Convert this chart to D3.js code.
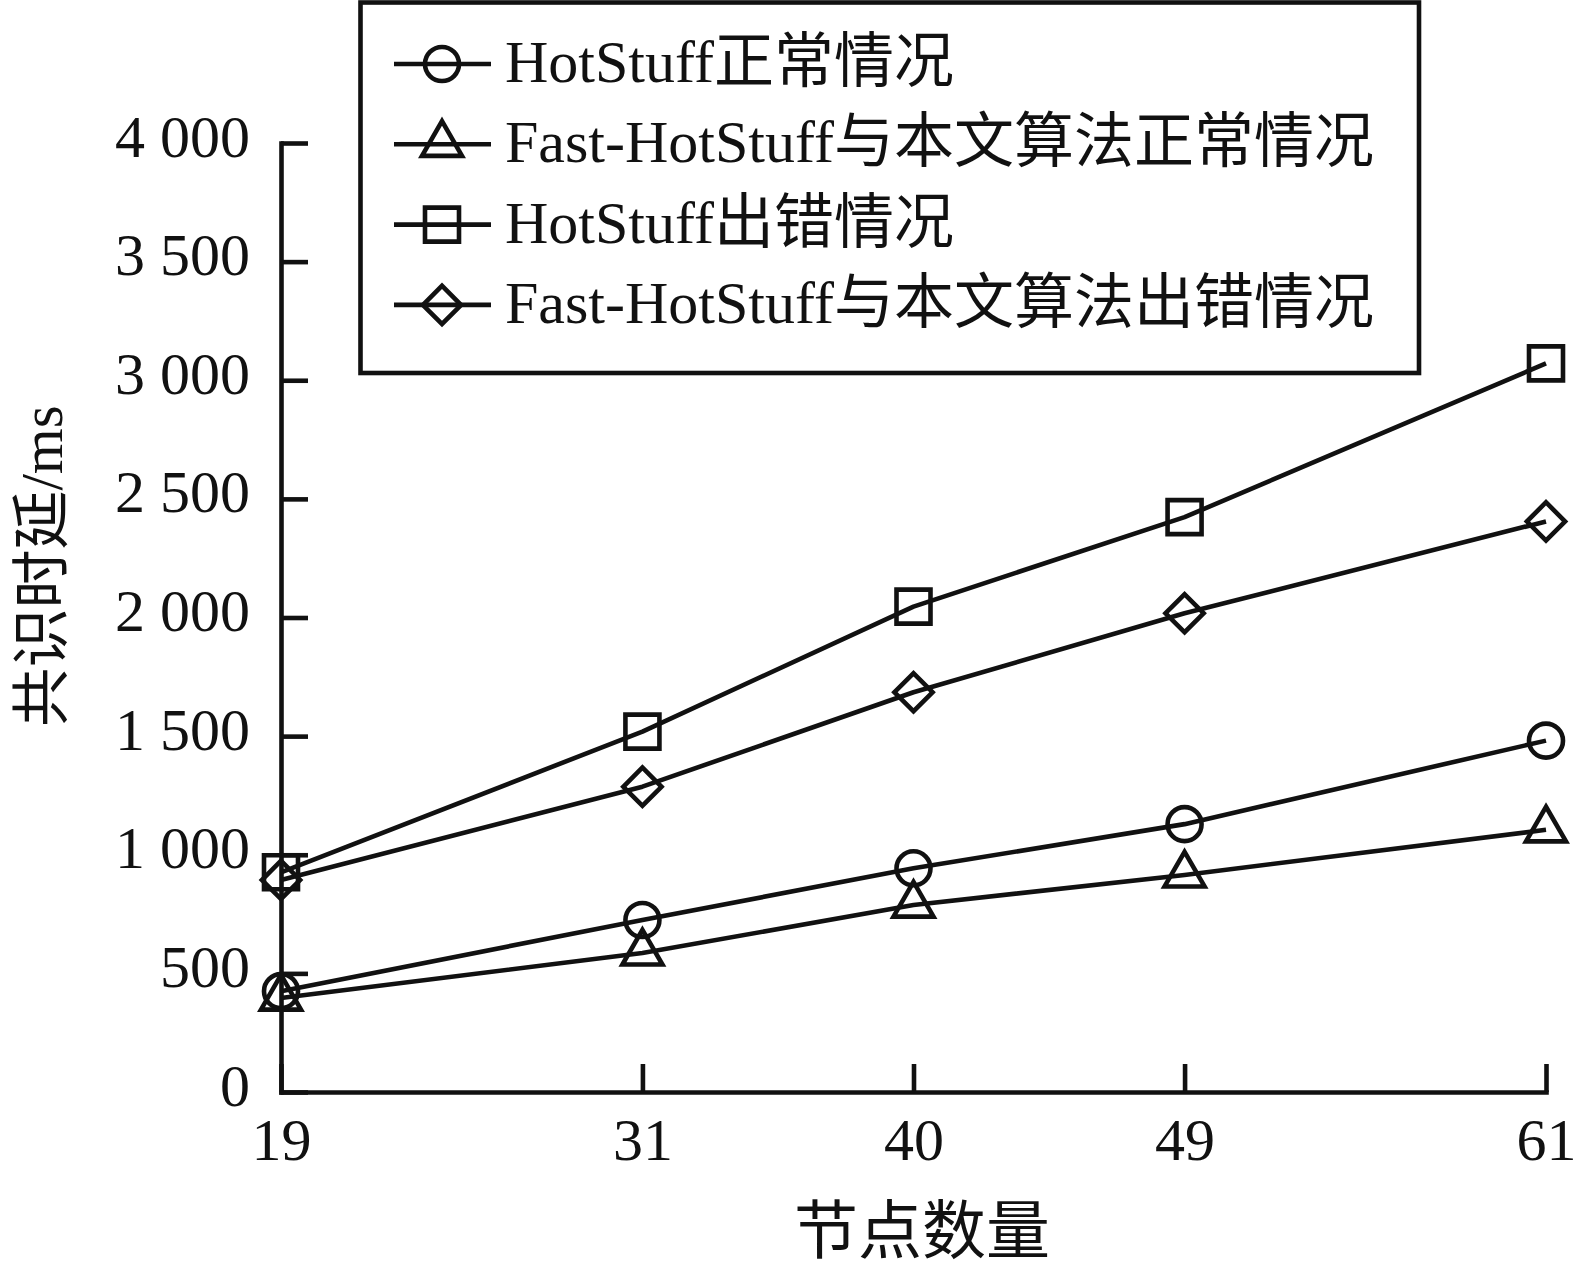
<!DOCTYPE html>
<html>
<head>
<meta charset="utf-8">
<script src="https://cdn.jsdelivr.net/npm/d3@7"></script>
<style>
  html, body { margin: 0; padding: 0; background: #fff; }
  svg { display: block; }
  text { font-family: "Liberation Serif", "Noto Sans CJK SC", serif; fill: #111; }
</style>
</head>
<body>
<script>
// ---- data ----
const nodeCounts = [19, 31, 40, 49, 61];
const hotstuffNormal = [425, 725, 943, 1129, 1481];
const fastNormal = [396, 586, 788, 915, 1105];
const hotstuffError = [926, 1519, 2046, 2423, 3071];
const fastError = [894, 1287, 1685, 2018, 2405];
const seriesNames = [
  "HotStuff正常情况",
  "Fast-HotStuff与本文算法正常情况",
  "HotStuff出错情况",
  "Fast-HotStuff与本文算法出错情况"
];
const seriesSymbols = ["circle", "triangle", "square", "diamond"];
const yTickValues = [0, 500, 1000, 1500, 2000, 2500, 3000, 3500, 4000];
const yTickLabels = ["0", "500", "1 000", "1 500", "2 000", "2 500", "3 000", "3 500", "4 000"];
const xTickLabels = ["19", "31", "40", "49", "61"];
const xTitle = "节点数量";
const yTitle = "共识时延/ms";

const seriesValues = [hotstuffNormal, fastNormal, hotstuffError, fastError];

// ---- layout ----
const W = 1579, H = 1268;
const ink = "#111";
const svg = d3.select("body").append("svg").attr("width", W).attr("height", H);
svg.append("rect").attr("width", W).attr("height", H).attr("fill", "#fff");

const x = d3.scaleLinear().domain([19, 61]).range([281, 1546]);
const y = d3.scaleLinear().domain([0, 4000]).range([1092, 143]);

function symbolPath(kind) {
  if (kind === "circle") return d3.symbol(d3.symbolCircle, Math.PI * 17 * 17)();
  if (kind === "triangle") return d3.symbol(d3.symbolTriangle, Math.sqrt(3) / 4 * 40 * 40)();
  if (kind === "square") return d3.symbol(d3.symbolSquare, 34 * 34)();
  return d3.symbol(d3.symbolSquare, 27 * 27)();
}
function symbolRotate(kind) { return kind === "diamond" ? " rotate(45)" : ""; }

// axes
const xAxis = d3.axisBottom(x).tickValues(nodeCounts)
  .tickFormat((d, i) => xTickLabels[i]).tickSizeInner(-28).tickSizeOuter(0).tickPadding(0);
const gx = svg.append("g").attr("transform", `translate(0,${y(0)})`).call(xAxis);
gx.select(".domain").attr("stroke", ink).attr("stroke-width", 4.6).attr("stroke-linecap", "square");
gx.selectAll(".tick line").attr("stroke", ink).attr("stroke-width", 4.6);
gx.selectAll(".tick text").attr("y", 68).attr("dy", null)
  .attr("font-size", 60).attr("fill", ink)
  .style("font-family", '"Liberation Serif", serif');

const yAxis = d3.axisLeft(y).tickValues(yTickValues)
  .tickFormat((d, i) => yTickLabels[i]).tickSizeInner(-27).tickSizeOuter(0).tickPadding(31);
const gy = svg.append("g").attr("transform", `translate(${x(19)},0)`).call(yAxis);
gy.select(".domain").attr("stroke", ink).attr("stroke-width", 4.6).attr("stroke-linecap", "square");
gy.selectAll(".tick line").attr("stroke", ink).attr("stroke-width", 4.6);
gy.selectAll(".tick text").attr("dy", 13)
  .attr("font-size", 60).attr("fill", ink)
  .style("font-family", '"Liberation Serif", serif');

// titles
svg.append("text").attr("x", 922).attr("y", 1253).attr("text-anchor", "middle")
  .attr("font-size", 64).text(xTitle);
svg.append("text").attr("transform", "translate(62,566) rotate(-90)")
  .attr("text-anchor", "middle").attr("font-size", 59).text(yTitle);

// series
const line = d3.line().x((d, i) => x(nodeCounts[i])).y(d => y(d));
seriesValues.forEach((vals, s) => {
  const g = svg.append("g");
  g.append("path").attr("d", line(vals)).attr("fill", "none")
    .attr("stroke", ink).attr("stroke-width", 4.6).attr("stroke-linejoin", "round");
  const kind = seriesSymbols[s];
  g.selectAll("path.m").data(vals).join("path").attr("class", "m")
    .attr("d", symbolPath(kind))
    .attr("transform", (d, i) => `translate(${x(nodeCounts[i])},${y(d)})` + symbolRotate(kind))
    .attr("fill", "none").attr("stroke", ink).attr("stroke-width", 4.6);
});

// legend
const leg = svg.append("g");
leg.append("rect").attr("x", 360.5).attr("y", 2.5).attr("width", 1058.5).attr("height", 370.5)
  .attr("fill", "#fff").attr("stroke", ink).attr("stroke-width", 4.6);
seriesNames.forEach((name, i) => {
  const ry = 64 + i * 80.3;
  const kind = seriesSymbols[i];
  leg.append("line").attr("x1", 394).attr("x2", 491).attr("y1", ry).attr("y2", ry)
    .attr("stroke", ink).attr("stroke-width", 4.6);
  leg.append("path").attr("d", symbolPath(kind))
    .attr("transform", `translate(442,${ry})` + symbolRotate(kind))
    .attr("fill", "none").attr("stroke", ink).attr("stroke-width", 4.6);
  leg.append("text").attr("x", 505).attr("y", ry + 18).attr("font-size", 60).text(name);
});
</script>
</body>
</html>
